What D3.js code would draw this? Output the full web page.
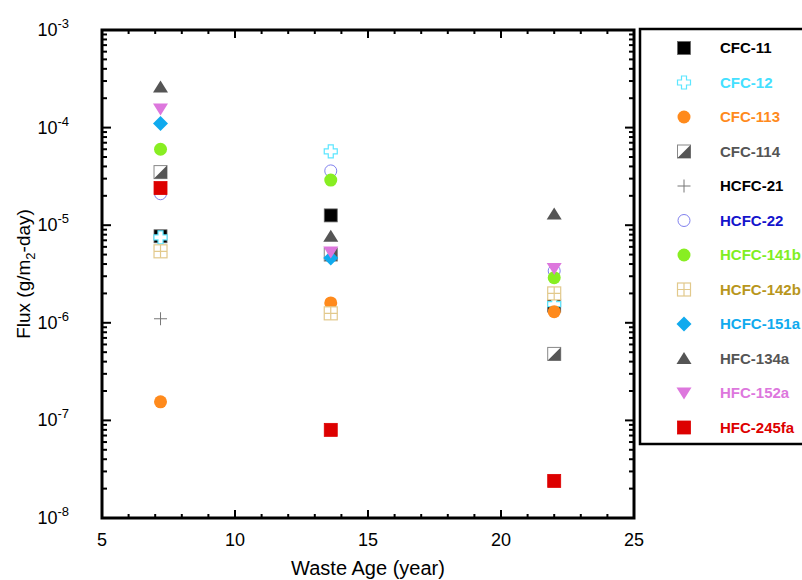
<!DOCTYPE html>
<html>
<head>
<meta charset="utf-8">
<script src="https://cdn.jsdelivr.net/npm/d3@7"></script>
<style>
  body { margin: 0; background: #fff; }
  text { font-family: Arial, "Liberation Sans", sans-serif; }
</style>
</head>
<body>
<div id="chart"></div>
<script>
// Waste age (x) for the three sampling sites
var ages = [7.2, 13.6, 22];

// Compound names, in legend order
var compounds = ["CFC-11", "CFC-12", "CFC-113", "CFC-114", "HCFC-21", "HCFC-22",
  "HCFC-141b", "HCFC-142b", "HCFC-151a", "HFC-134a", "HFC-152a", "HFC-245fa"];

// Flux per compound at each age (null = not shown)
var fluxCFC11   = [7.7e-6, 1.26e-5, 1.5e-6];
var fluxCFC12   = [7.5e-6, 5.7e-5, 1.55e-6];
var fluxCFC113  = [1.55e-7, 1.6e-6, 1.3e-6];
var fluxCFC114  = [3.5e-5, 5.0e-6, 4.8e-7];
var fluxHCFC21  = [1.1e-6, null, null];
var fluxHCFC22  = [2.1e-5, 3.6e-5, 3.4e-6];
var fluxHCFC141b = [6.0e-5, 2.9e-5, 2.9e-6];
var fluxHCFC142b = [5.4e-6, 1.25e-6, 2.0e-6];
var fluxHCFC151a = [1.1e-4, 4.6e-6, null];
var fluxHFC134a = [2.6e-4, 7.7e-6, 1.3e-5];
var fluxHFC152a = [1.55e-4, 5.3e-6, 3.6e-6];
var fluxHFC245fa = [2.4e-5, 8.0e-8, 2.4e-8];

var yTickExps = [-3, -4, -5, -6, -7, -8];
var xTicks = [5, 10, 15, 20, 25];

var series = [
  { name: compounds[0],  values: fluxCFC11,    sym: "square",   color: "#000000", text: "#000000" },
  { name: compounds[1],  values: fluxCFC12,    sym: "cross",    color: "#5ce6ff", text: "#44e0ff" },
  { name: compounds[2],  values: fluxCFC113,   sym: "circle",   color: "#ff8a1c", text: "#ff8a1c" },
  { name: compounds[3],  values: fluxCFC114,   sym: "half",     color: "#555555", text: "#555555" },
  { name: compounds[4],  values: fluxHCFC21,   sym: "plus",     color: "#777777", text: "#000000" },
  { name: compounds[5],  values: fluxHCFC22,   sym: "ocircle",  color: "#8080ee", text: "#1414cc" },
  { name: compounds[6],  values: fluxHCFC141b, sym: "circle",   color: "#88ee22", text: "#80ee22" },
  { name: compounds[7],  values: fluxHCFC142b, sym: "grid",     color: "#e2c98c", text: "#b8961c" },
  { name: compounds[8],  values: fluxHCFC151a, sym: "diamond",  color: "#10aaee", text: "#10aaee" },
  { name: compounds[9],  values: fluxHFC134a,  sym: "triangle", color: "#555555", text: "#555555" },
  { name: compounds[10], values: fluxHFC152a,  sym: "tridown",  color: "#dd77dd", text: "#dd77dd" },
  { name: compounds[11], values: fluxHFC245fa, sym: "square",   color: "#dd0000", text: "#dd0000" }
];

var width = 802, height = 580;
var margin = { left: 102, right: 168, top: 30, bottom: 62 };
var plotW = width - margin.left - margin.right;
var plotH = height - margin.top - margin.bottom;

var svg = d3.select("#chart").append("svg")
  .attr("width", width)
  .attr("height", height);

var x = d3.scaleLinear().domain([5, 25]).range([margin.left, margin.left + plotW]);
var y = d3.scaleLog().domain([1e-8, 1e-3]).range([margin.top + plotH, margin.top]);

// draw one marker centred at 0,0
function drawSymbol(g, d) {
  var s = 6.5;
  if (d.sym === "square") {
    g.append("rect").attr("x", -s).attr("y", -s).attr("width", 2 * s).attr("height", 2 * s)
      .attr("fill", d.color).attr("stroke", d.color === "#000000" ? "#666" : d.color).attr("stroke-width", 0.8);
  } else if (d.sym === "circle") {
    g.append("circle").attr("r", s).attr("fill", d.color);
  } else if (d.sym === "ocircle") {
    g.append("circle").attr("r", s - 0.5).attr("fill", "none").attr("stroke", d.color).attr("stroke-width", 1);
  } else if (d.sym === "cross") {
    var a = 2.5;
    var pts = [[-a, -s], [a, -s], [a, -a], [s, -a], [s, a], [a, a], [a, s], [-a, s], [-a, a], [-s, a], [-s, -a], [-a, -a]];
    g.append("path").attr("d", "M" + pts.join("L") + "Z")
      .attr("fill", "#fff").attr("stroke", d.color).attr("stroke-width", 1.2);
  } else if (d.sym === "half") {
    g.append("rect").attr("x", -s).attr("y", -s).attr("width", 2 * s).attr("height", 2 * s)
      .attr("fill", "#fff").attr("stroke", "#888").attr("stroke-width", 1);
    g.append("path").attr("d", "M" + s + "," + (-s) + "L" + s + "," + s + "L" + (-s) + "," + s + "Z")
      .attr("fill", d.color);
  } else if (d.sym === "plus") {
    g.append("path").attr("d", "M" + (-s) + ",0H" + s + "M0," + (-s) + "V" + s)
      .attr("stroke", d.color).attr("stroke-width", 1);
  } else if (d.sym === "grid") {
    g.append("rect").attr("x", -s).attr("y", -s).attr("width", 2 * s).attr("height", 2 * s)
      .attr("fill", "#fff").attr("stroke", d.color).attr("stroke-width", 1.2);
    g.append("path").attr("d", "M" + (-s) + ",0H" + s + "M0," + (-s) + "V" + s)
      .attr("stroke", d.color).attr("stroke-width", 1.2);
  } else if (d.sym === "diamond") {
    g.append("path").attr("d", "M0," + (-s - 1) + "L" + (s + 1) + ",0L0," + (s + 1) + "L" + (-s - 1) + ",0Z")
      .attr("fill", d.color);
  } else if (d.sym === "triangle") {
    g.append("path").attr("d", "M0," + (-s) + "L" + (s + 1) + "," + (s - 1) + "L" + (-s - 1) + "," + (s - 1) + "Z")
      .attr("fill", d.color);
  } else if (d.sym === "tridown") {
    g.append("path").attr("d", "M0," + s + "L" + (s + 1) + "," + (-s + 1) + "L" + (-s - 1) + "," + (-s + 1) + "Z")
      .attr("fill", d.color);
  }
}

// Ticks on all four sides, pointing inward
var ticksG = svg.append("g").attr("stroke", "#000").attr("stroke-width", 2);
var x0 = margin.left, x1 = margin.left + plotW, y0 = margin.top, y1 = margin.top + plotH;

d3.range(6, 25).forEach(function(v) {
  var len = v % 5 === 0 ? 8 : 4;
  ticksG.append("line").attr("x1", x(v)).attr("x2", x(v)).attr("y1", y1).attr("y2", y1 - len);
  ticksG.append("line").attr("x1", x(v)).attr("x2", x(v)).attr("y1", y0).attr("y2", y0 + len);
});
yTickExps.forEach(function(e) {
  if (e === -3) return;
  for (var m = 1; m <= 9; m++) {
    var v = m * Math.pow(10, e);
    var len = m === 1 ? 9 : 5;
    ticksG.append("line").attr("x1", x0).attr("x2", x0 + len).attr("y1", y(v)).attr("y2", y(v));
    ticksG.append("line").attr("x1", x1).attr("x2", x1 - len).attr("y1", y(v)).attr("y2", y(v));
  }
});

// Frame
svg.append("rect").attr("x", x0).attr("y", y0).attr("width", plotW).attr("height", plotH)
  .attr("fill", "none").attr("stroke", "#000").attr("stroke-width", 3);

// Tick labels
svg.selectAll("text.xtick").data(xTicks).enter().append("text")
  .attr("class", "xtick")
  .attr("x", function(d) { return x(d); })
  .attr("y", y1 + 28)
  .attr("text-anchor", "middle")
  .attr("font-size", 18)
  .text(function(d) { return d; });

var yl = svg.selectAll("text.ytick").data(yTickExps).enter().append("text")
  .attr("class", "ytick")
  .attr("x", x0 - 33)
  .attr("y", function(d) { return y(Math.pow(10, d)) + 6; })
  .attr("text-anchor", "end")
  .attr("font-size", 18);
yl.append("tspan").text("10");
yl.append("tspan").attr("font-size", 13).attr("dy", -8).text(function(d) { return "-" + Math.abs(d); });

// Axis titles
svg.append("text")
  .attr("x", (x0 + x1) / 2).attr("y", 575)
  .attr("text-anchor", "middle").attr("font-size", 20)
  .text("Waste Age (year)");

var yt = svg.append("text")
  .attr("transform", "translate(30," + ((y0 + y1) / 2) + ") rotate(-90)")
  .attr("text-anchor", "middle").attr("font-size", 19);
yt.append("tspan").text("Flux (g/m");
yt.append("tspan").attr("font-size", 13).attr("dy", 5).text("2");
yt.append("tspan").attr("dy", -5).text("-day)");

// Data points, drawn in legend order so later series sit on top
series.forEach(function(d) {
  d.values.forEach(function(v, i) {
    if (v == null) return;
    var g = svg.append("g").attr("transform", "translate(" + x(ages[i]) + "," + y(v) + ")");
    drawSymbol(g, d);
  });
});

// Legend
var lg = svg.append("g");
lg.append("rect").attr("x", 640).attr("y", 29).attr("width", 180).attr("height", 415)
  .attr("fill", "#fff").attr("stroke", "#000").attr("stroke-width", 2.5);
var rowH = 34.5;
series.forEach(function(d, i) {
  var cy = 48 + i * rowH;
  var g = lg.append("g").attr("transform", "translate(684," + cy + ")");
  drawSymbol(g, d);
  lg.append("text").attr("x", 720).attr("y", cy + 5)
    .attr("font-size", 15).attr("font-weight", "bold")
    .attr("fill", d.text).text(d.name);
});
</script>
</body>
</html>
